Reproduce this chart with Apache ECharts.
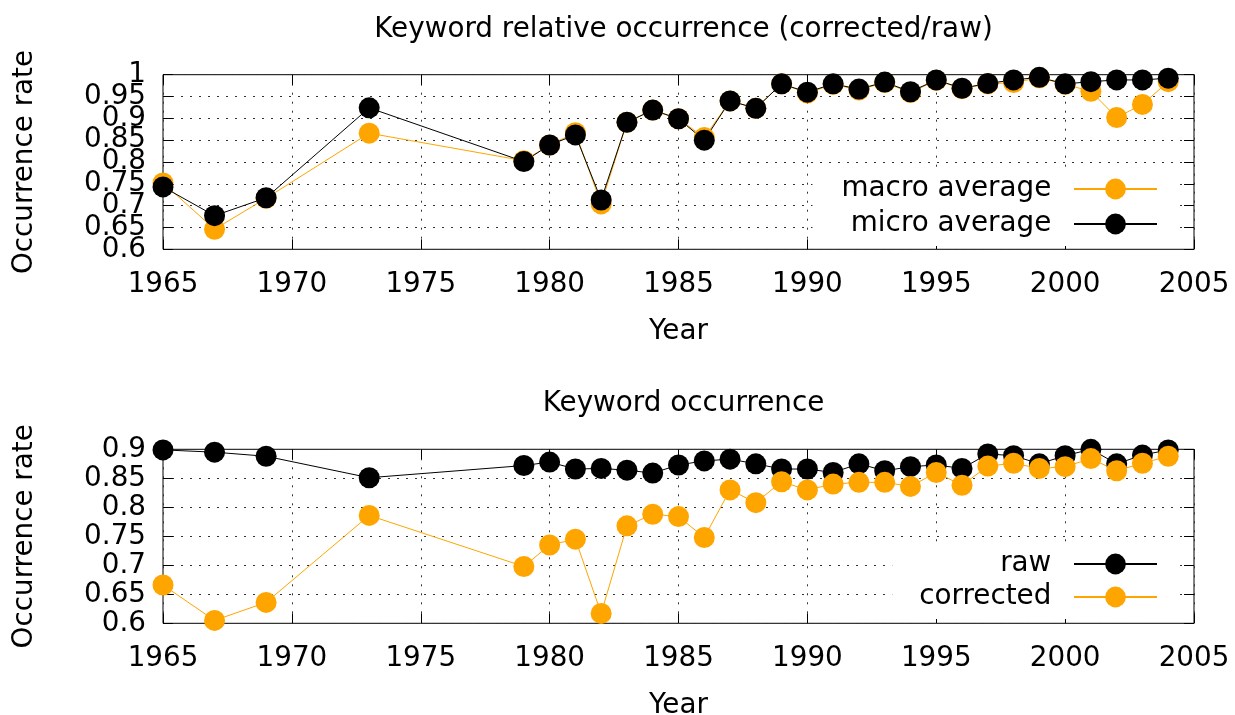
<!DOCTYPE html>
<html>
<head>
<meta charset="utf-8">
<script src="https://cdn.jsdelivr.net/npm/echarts@6/dist/echarts.min.js"></script>
<style>
html,body{margin:0;padding:0;background:#fff;}
#chart{width:1235px;height:715px;}
</style>
</head>
<body>
<div id="chart"></div>
<script>
// ---- data ----
const years = [1965,1967,1969,1973,1979,1980,1981,1982,1983,1984,1985,1986,1987,1988,1989,1990,1991,1992,1993,1994,1995,1996,1997,1998,1999,2000,2001,2002,2003,2004];
const macroAverage = [0.752,0.646,0.717,0.866,0.803,0.839,0.867,0.704,0.891,0.919,0.899,0.856,0.940,0.923,0.979,0.958,0.978,0.965,0.982,0.959,0.987,0.968,0.979,0.982,0.993,0.978,0.962,0.902,0.932,0.984];
const microAverage = [0.743,0.677,0.718,0.924,0.801,0.839,0.862,0.713,0.891,0.919,0.899,0.850,0.940,0.923,0.979,0.960,0.979,0.967,0.983,0.961,0.988,0.969,0.980,0.988,0.994,0.979,0.984,0.988,0.988,0.992];
const rawRate = [0.899,0.895,0.888,0.851,0.872,0.878,0.866,0.867,0.864,0.859,0.873,0.880,0.883,0.875,0.866,0.866,0.860,0.875,0.863,0.870,0.873,0.867,0.892,0.889,0.875,0.889,0.900,0.875,0.890,0.899];
const correctedRate = [0.666,0.605,0.636,0.786,0.698,0.735,0.745,0.617,0.768,0.788,0.784,0.748,0.830,0.808,0.844,0.830,0.840,0.843,0.843,0.836,0.860,0.838,0.871,0.876,0.867,0.870,0.884,0.863,0.876,0.888];
const titles = ['Keyword relative occurrence (corrected/raw)', 'Keyword occurrence'];
const xName = 'Year';
const yName = 'Occurrence rate';
const xRange = {min: 1965, max: 2005, interval: 5};
const yRangeTop = {min: 0.6, max: 1, interval: 0.05};
const yRangeBottom = {min: 0.6, max: 0.9, interval: 0.05};

// ---- styling ----
const FONT = 'DejaVu Sans';
const FS = 27.8;
const ORANGE = '#ffa500';
const BLACK = '#000000';
const gridLine = {show: true, lineStyle: {color: '#333', width: 1, type: [2, 7]}};
const tick = {show: true, inside: true, length: 10, lineStyle: {color: '#000', width: 1}};
const labelFmt = v => String(Math.round(v * 1000) / 1000);
const oddFmt = v => (Math.round(v * 100) % 10 === 5 ? labelFmt(v) : '');
const labelStyle = {color: '#000', fontFamily: FONT, fontSize: FS, margin: 17};

function xAxes(gridIndex) {
  return [
    {type: 'value', gridIndex, position: 'bottom', min: xRange.min, max: xRange.max, interval: xRange.interval,
     axisLine: {show: false}, axisTick: tick, splitLine: gridLine,
     axisLabel: {show: true, color: '#000', fontFamily: FONT, fontSize: FS, margin: 21, formatter: v => String(v),
                 showMinLabel: true, showMaxLabel: true},
     name: xName, nameLocation: 'middle', nameGap: 68, nameTextStyle: {color: '#000', fontFamily: FONT, fontSize: FS}},
    {type: 'value', gridIndex, position: 'top', min: xRange.min, max: xRange.max, interval: xRange.interval,
     axisLine: {show: false}, axisTick: tick, splitLine: {show: false}, axisLabel: {show: false}}
  ];
}
function yAxes(gridIndex, r, fmt) {
  return [
    {type: 'value', gridIndex, position: 'left', min: r.min, max: r.max, interval: r.interval,
     axisLine: {show: false}, axisTick: tick, splitLine: gridLine,
     axisLabel: Object.assign({show: true, formatter: fmt}, labelStyle),
     name: yName, nameLocation: 'middle', nameGap: 124, nameRotate: 90,
     nameTextStyle: {color: '#000', fontFamily: FONT, fontSize: FS}},
    {type: 'value', gridIndex, position: 'right', min: r.min, max: r.max, interval: r.interval,
     axisLine: {show: false}, axisTick: tick, splitLine: {show: false}, axisLabel: {show: false}}
  ];
}
function series(name, values, color, xi, yi) {
  return {
    name, type: 'line', xAxisIndex: xi, yAxisIndex: yi,
    data: years.map((y, i) => [y, values[i]]),
    symbol: 'circle', symbolSize: 21, showSymbol: true,
    lineStyle: {color, width: 1}, itemStyle: {color},
    emphasis: {disabled: true}, animation: false, clip: false
  };
}
const legendCommon = {
  orient: 'vertical', align: 'right', itemWidth: 83, itemHeight: 26,
  backgroundColor: '#fff', borderWidth: 0,
  textStyle: {color: '#000', fontFamily: FONT, fontSize: FS, lineHeight: 27},
  formatter: n => n + '  ', selectedMode: false
};

// top grid: the 0.05-step axis carries ticks, grid lines and the odd labels;
// a second left axis on the same scale carries the 0.1-step labels.
const topLabelAxis = {type: 'value', gridIndex: 0, position: 'left', offset: 0,
  min: yRangeTop.min, max: yRangeTop.max, interval: 0.1,
  axisLine: {show: false}, axisTick: {show: false}, splitLine: {show: false},
  axisLabel: Object.assign({show: true, formatter: labelFmt, showMinLabel: true, showMaxLabel: true}, labelStyle)};

const chart = echarts.init(document.getElementById('chart'), null, {renderer: 'canvas'});
chart.setOption({
  animation: false,
  backgroundColor: '#fff',
  title: [
    {text: titles[0], left: 678.5, top: 11, textAlign: 'center', textStyle: {color: '#000', fontFamily: FONT, fontSize: FS, fontWeight: 'normal'}},
    {text: titles[1], left: 678.5, top: 385, textAlign: 'center', textStyle: {color: '#000', fontFamily: FONT, fontSize: FS, fontWeight: 'normal'}}
  ],
  grid: [
    {left: 163, right: 41, top: 74.7, height: 174.6, show: true, borderColor: '#000', borderWidth: 1, backgroundColor: 'transparent', outerBoundsMode: 'none', containLabel: false},
    {left: 163, right: 41, top: 449.3, height: 174, show: true, borderColor: '#000', borderWidth: 1, backgroundColor: 'transparent', outerBoundsMode: 'none', containLabel: false}
  ],
  xAxis: [...xAxes(0), ...xAxes(1)],
  yAxis: [...yAxes(0, yRangeTop, oddFmt), ...yAxes(1, yRangeBottom, labelFmt), topLabelAxis],
  legend: [
    Object.assign({}, legendCommon, {data: ['macro average', 'micro average'], right: 1235 - 1158 - 20, top: 172, padding: [3, 20, 8, 29], itemGap: 7}),
    Object.assign({}, legendCommon, {data: ['raw', 'corrected'], right: 1235 - 1158 - 20, top: 547, padding: [3, 20, 8, 27], itemGap: 5})
  ],
  series: [
    series('macro average', macroAverage, ORANGE, 0, 0),
    series('micro average', microAverage, BLACK, 0, 0),
    series('raw', rawRate, BLACK, 2, 2),
    series('corrected', correctedRate, ORANGE, 2, 2)
  ]
});
</script>
</body>
</html>
